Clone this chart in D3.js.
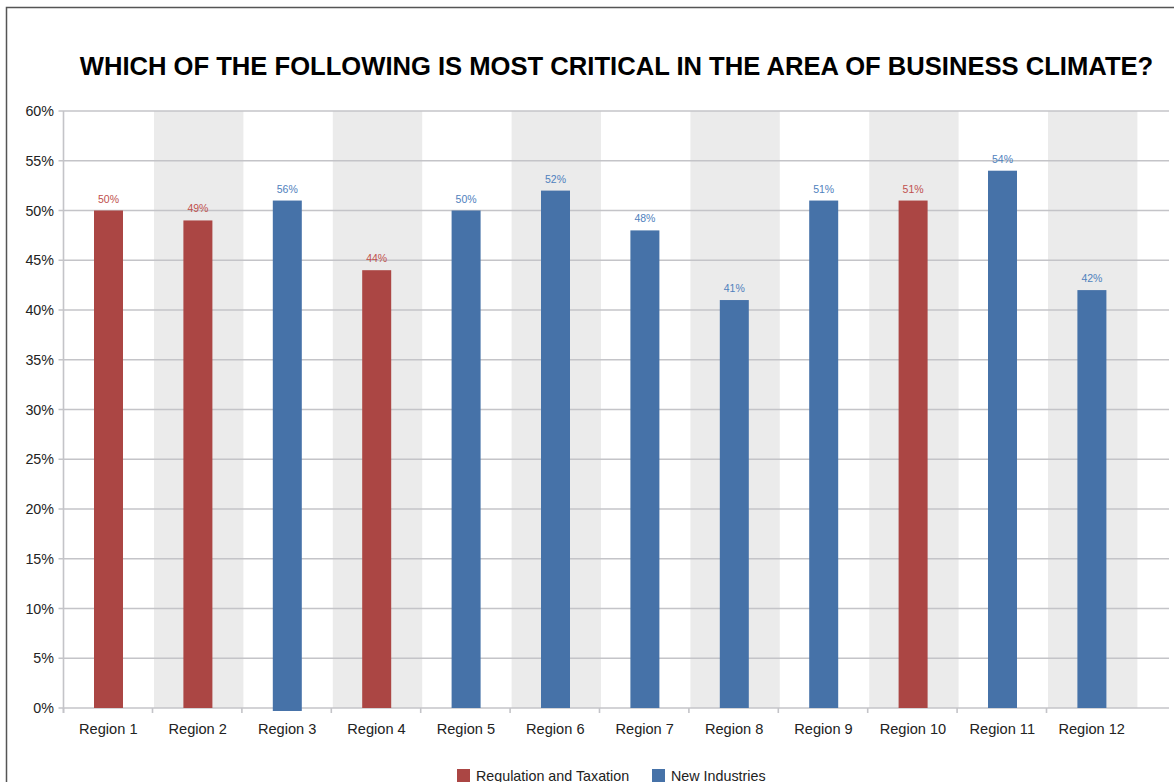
<!DOCTYPE html>
<html><head><meta charset="utf-8">
<script src="https://cdn.jsdelivr.net/npm/d3@7"></script>
<style>body{margin:0;background:#fff}svg{display:block}text{font-family:"Liberation Sans",Arial,sans-serif}</style>
</head><body><svg id="c" width="1174" height="782"></svg>
<script>
const title = "WHICH OF THE FOLLOWING IS MOST CRITICAL IN THE AREA OF BUSINESS CLIMATE?";
const categories = ["Region 1","Region 2","Region 3","Region 4","Region 5","Region 6","Region 7","Region 8","Region 9","Region 10","Region 11","Region 12"];
const barValues = [50,49,51,44,50,52,48,41,51,51,54,42];
const barBases = [0,0,-0.3,0,0,0,0,0,0,0,0,0];
const labelTexts = ["50%","49%","56%","44%","50%","52%","48%","41%","51%","51%","54%","42%"];
const seriesOf = ["Regulation and Taxation","Regulation and Taxation","New Industries","Regulation and Taxation","New Industries","New Industries","New Industries","New Industries","New Industries","Regulation and Taxation","New Industries","New Industries"];
const seriesNames = ["Regulation and Taxation","New Industries"];
const yTicks = [0,5,10,15,20,25,30,35,40,45,50,55,60];

const barColor = d3.scaleOrdinal().domain(seriesNames).range(["#ab4644","#4672a8"]);
const labelColor = d3.scaleOrdinal().domain(seriesNames).range(["#c0504d","#4f81bd"]);

const svg = d3.select("#c");
// frame
svg.append("rect").attr("x",6.5).attr("y",7.5).attr("width",1180).attr("height",800)
  .attr("fill","none").attr("stroke","#555").attr("stroke-width",1.5);

const pLeft = 63.5, pRight = 1169, pTop = 111, pBottom = 708;
const x = d3.scaleBand().domain(categories).range([64.6, 64.6 + 12*89.4]).padding(0);
const y = d3.scaleLinear().domain([0,60]).range([pBottom, pTop]);

// alternating bands
svg.append("g").selectAll("rect").data(categories.filter((d,i)=>i%2===1)).join("rect")
  .attr("x", d=>x(d)).attr("y", pTop).attr("width", x.bandwidth()).attr("height", pBottom-pTop)
  .attr("fill","#ebebeb");

// gridlines
svg.append("g").selectAll("line").data(yTicks).join("line")
  .attr("x1", pLeft-5).attr("x2", pRight).attr("y1", d=>y(d)).attr("y2", d=>y(d))
  .attr("stroke","#c4c4c8").attr("stroke-width",1.6);

// y axis line
svg.append("line").attr("x1",pLeft).attr("x2",pLeft).attr("y1",pTop).attr("y2",pBottom+5)
  .attr("stroke","#c4c4c8").attr("stroke-width",1.6);
// y labels
svg.append("g").selectAll("text").data(yTicks).join("text")
  .attr("x", 54).attr("y", d=>y(d)).attr("dy","0.36em").attr("text-anchor","end")
  .attr("font-size",14.3).attr("fill","#222").text(d=>d+"%");

// x ticks at band boundaries
svg.append("g").selectAll("line").data(categories).join("line")
  .attr("x1", (d,i)=> i===0 ? pLeft : x(d)-1.5).attr("x2",(d,i)=> i===0 ? pLeft : x(d)-1.5)
  .attr("y1", pBottom).attr("y2", pBottom+5)
  .attr("stroke","#c4c4c8").attr("stroke-width",1.6);

// bars
const bw = 29;
svg.append("g").selectAll("rect").data(categories).join("rect")
  .attr("x", d=>x(d)+x.bandwidth()/2 - bw/2 - 0.8)
  .attr("y", (d,i)=>y(barValues[i]))
  .attr("width", bw)
  .attr("height", (d,i)=>y(barBases[i]) - y(barValues[i]))
  .attr("fill", (d,i)=>barColor(seriesOf[i]));

// data labels
svg.append("g").selectAll("text").data(categories).join("text")
  .attr("x", d=>x(d)+x.bandwidth()/2 - 0.8)
  .attr("y", (d,i)=>y(barValues[i]) - 8)
  .attr("text-anchor","middle").attr("font-size",10.5)
  .attr("fill",(d,i)=>labelColor(seriesOf[i])).text((d,i)=>labelTexts[i]);

// x labels
svg.append("g").selectAll("text").data(categories).join("text")
  .attr("x", d=>x(d)+x.bandwidth()/2 - 1).attr("y", 734)
  .attr("text-anchor","middle").attr("font-size",14.6).attr("fill","#222").text(d=>d);

// title
svg.append("text").attr("x",616.5).attr("y",75).attr("text-anchor","middle")
  .attr("font-size",25.6).attr("font-weight","bold").attr("fill","#000").text(title);

// legend
const legendX = [457, 652];
const lg = svg.append("g").selectAll("g").data(seriesNames).join("g")
  .attr("transform",(d,i)=>`translate(${legendX[i]},769)`);
lg.append("rect").attr("width",13).attr("height",14).attr("fill",d=>barColor(d));
lg.append("text").attr("x",19).attr("y",12).attr("font-size",14.3).attr("fill","#222").text(d=>d);
</script></body></html>
